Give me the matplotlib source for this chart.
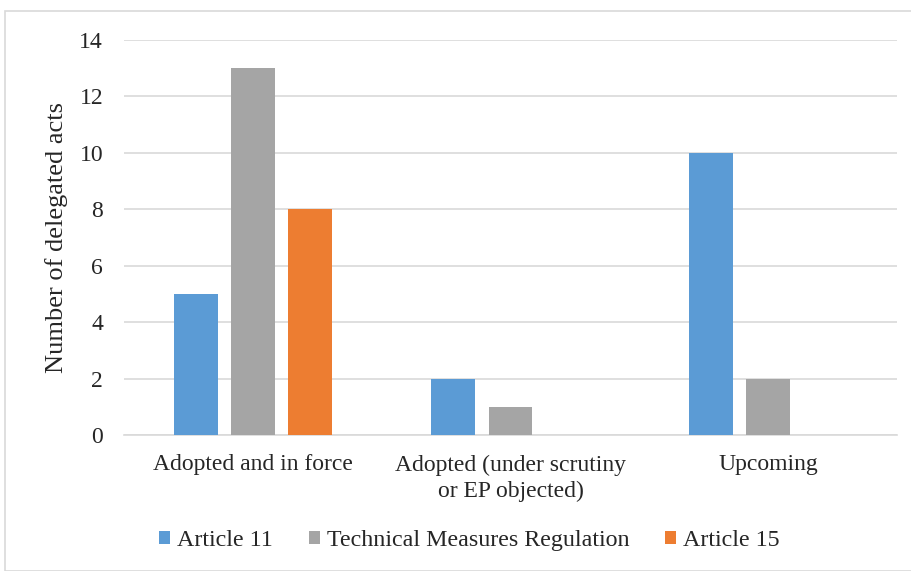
import numpy as np
import matplotlib.pyplot as plt
from matplotlib.patches import Rectangle

plt.rcParams['font.family'] = ['Liberation Serif', 'DejaVu Serif']

categories = ['Adopted and in force', 'Adopted (under scrutiny\nor EP objected)', 'Upcoming']
series_names = ['Article 11', 'Technical Measures Regulation', 'Article 15']
article_11 = [5, 2, 10]
tech_measures = [13, 1, 2]
article_15 = [8, 0, 0]
colors = ['#5B9BD5', '#A5A5A5', '#ED7D31']

fig = plt.figure(figsize=(9.12, 5.71), dpi=100)
ax = fig.add_axes([124 / 912, 1 - 435 / 571, (897 - 124) / 912, (435 - 40) / 571])

# рамка вокруг всей диаграммы
fig.patches.append(Rectangle((5 / 912, 0), 1, 1 - 11 / 571, transform=fig.transFigure,
                             fill=False, edgecolor='#D9D9D9', linewidth=1.2))

x = np.arange(len(categories))
offsets = [-0.222, 0, 0.222]
width = 0.17
for vals, name, c, off in zip([article_11, tech_measures, article_15], series_names, colors, offsets):
    ax.bar(x + off, vals, width, color=c, label=name, zorder=3)

ax.set_xlim(-0.5, 2.5)
ax.set_ylim(0, 14)
ax.set_yticks(range(0, 15, 2))
ax.yaxis.grid(True, color='#D9D9D9', linewidth=1.2, zorder=0)
for s in ['top', 'right', 'left']:
    ax.spines[s].set_visible(False)
ax.spines['bottom'].set_color('#D9D9D9')
ax.spines['bottom'].set_linewidth(1.2)
ax.tick_params(axis='both', length=0, labelsize=17, colors='#262626')
ax.tick_params(axis='y', pad=15)
ax.tick_params(axis='x', pad=14)
ax.set_xticks(x)
ax.set_xticklabels(categories, linespacing=1.3)
ax.set_ylabel('Number of delegated acts', fontsize=19, color='#262626', labelpad=8)

ax.legend(loc='center', bbox_to_anchor=(0.447, -0.267), ncol=3, frameon=False,
          fontsize=17.3, handlelength=0.45, handleheight=0.45, handletextpad=0.3, columnspacing=1.48,
          labelcolor='#262626')

fig.savefig('out.png', dpi=100)
